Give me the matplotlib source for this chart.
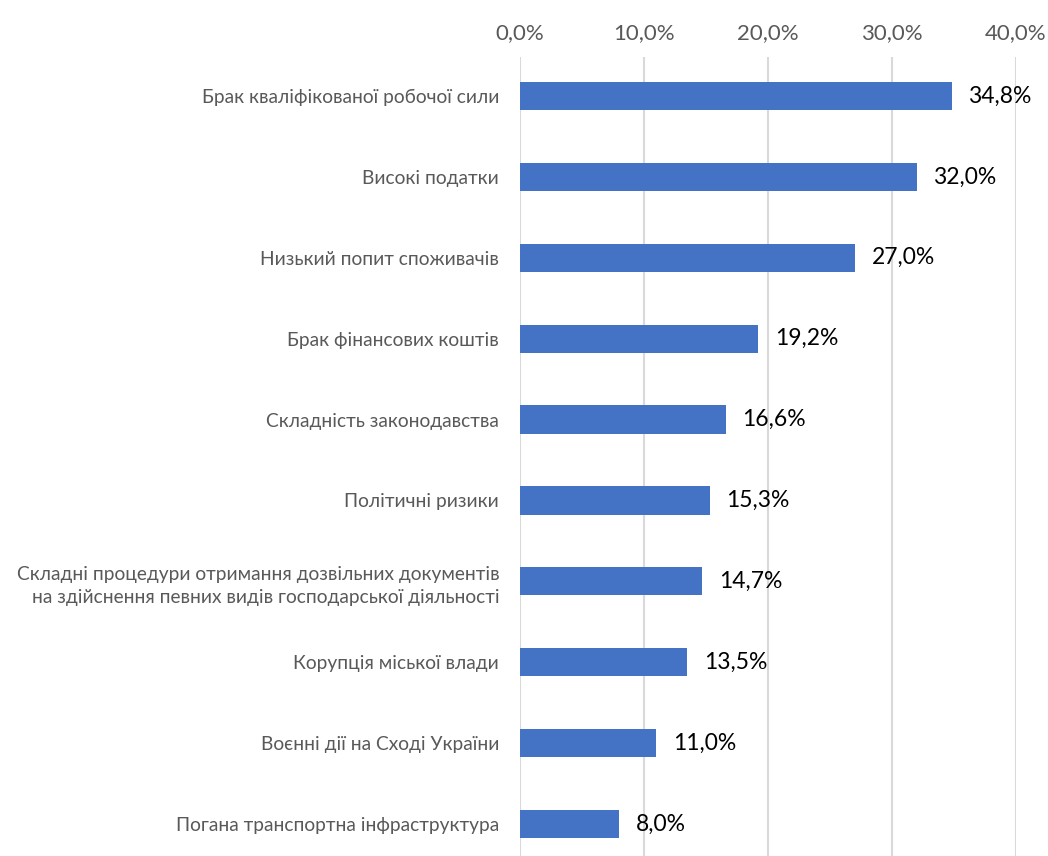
import matplotlib
matplotlib.use("Agg")
import matplotlib.pyplot as plt
from matplotlib.ticker import FuncFormatter

categories = ["Брак кваліфікованої робочої сили",
              "Високі податки",
              "Низький попит споживачів",
              "Брак фінансових коштів",
              "Складність законодавства",
              "Політичні ризики",
              "Складні процедури отримання дозвільних документів\nна здійснення певних видів господарської діяльності",
              "Корупція міської влади",
              "Воєнні дії на Сході України",
              "Погана транспортна інфраструктура"]
values = [34.8, 32.0, 27.0, 19.2, 16.6, 15.3, 14.7, 13.5, 11.0, 8.0]
xticks = [0, 10, 20, 30, 40]

plt.rcParams['font.family'] = ['Lato', 'DejaVu Sans']

fig = plt.figure(figsize=(10.48, 8.56), dpi=100)
ax = fig.add_axes([520 / 1048, 0.0, 496 / 1048, 1 - 57 / 856])

ypos = list(range(len(categories)))
ax.barh(ypos, values, height=0.35, color="#4472C4", zorder=3)

for y, v in zip(ypos, values):
    ax.annotate(f"{v:.1f}%".replace(".", ","), xy=(v, y), xytext=(12, 0),
                textcoords="offset points", ha="left", va="center",
                fontsize=16.5, color="black")

ax.set_xlim(0, 40)
ax.set_ylim(9 + 32 / 80.9, -39 / 80.9)
ax.set_xticks(xticks)
ax.xaxis.set_major_formatter(FuncFormatter(lambda x, p: f"{x:.1f}%".replace(".", ",")))
ax.xaxis.tick_top()
ax.tick_params(axis="x", length=0, pad=10, labelsize=16, labelcolor="#595959")
ax.set_yticks(ypos)
ax.set_yticklabels(categories, fontsize=13.8, color="#595959", linespacing=1.45)
ax.tick_params(axis="y", length=0, pad=15)

ax.grid(axis="x", color="#D9D9D9", linewidth=1.5, zorder=0)
for s in ax.spines.values():
    s.set_visible(False)

fig.savefig("out.png", dpi=100)
